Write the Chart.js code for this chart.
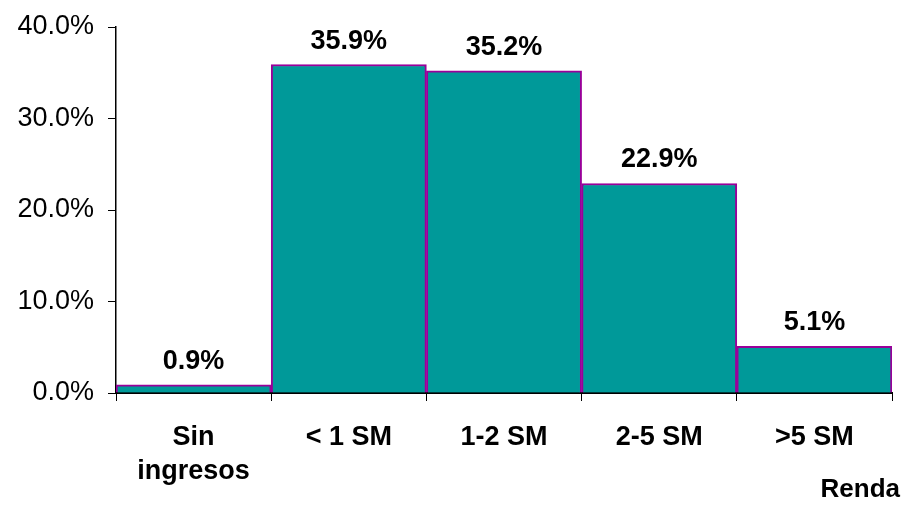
<!DOCTYPE html>
<html>
<head>
<meta charset="utf-8">
<script src="https://cdn.jsdelivr.net/npm/chart.js@4"></script>
<style>
html,body{margin:0;padding:0;background:#fff;}
#c{display:block;}
</style>
</head>
<body>
<canvas id="c" width="906" height="517"></canvas>
<script>
const categories = [["Sin","ingresos"], "< 1 SM", "1-2 SM", "2-5 SM", ">5 SM"];
const values = [0.9, 35.9, 35.2, 22.9, 5.1];
const axisTitle = "Renda";
const FONT = "'Liberation Sans', Arial, sans-serif";

const labelPlugin = {
  id: 'valueLabels',
  afterDatasetsDraw(chart) {
    const ctx = chart.ctx;
    const meta = chart.getDatasetMeta(0);
    ctx.save();
    ctx.font = "bold 27px " + FONT;
    ctx.fillStyle = '#000';
    ctx.textAlign = 'center';
    ctx.textBaseline = 'alphabetic';
    meta.data.forEach((bar, i) => {
      ctx.fillText(values[i].toFixed(1) + '%', bar.x, bar.y - 16);
    });
    // axis title, right-aligned just past the plot area
    ctx.font = "bold 26px " + FONT;
    ctx.textAlign = 'right';
    ctx.fillText(axisTitle, chart.chartArea.right + 8, 497);
    ctx.restore();
  }
};

new Chart(document.getElementById('c'), {
  type: 'bar',
  data: {
    labels: categories,
    datasets: [{
      data: values,
      backgroundColor: '#009999',
      borderColor: '#990099',
      borderWidth: 2,
      categoryPercentage: 1.0,
      barPercentage: 1.0
    }]
  },
  options: {
    responsive: false,
    animation: false,
    devicePixelRatio: 1,
    layout: { padding: { top: 27, right: 14, left: 0, bottom: 0 } },
    plugins: { legend: { display: false }, tooltip: { enabled: false } },
    scales: {
      x: {
        offset: true,
        grid: { offset: true, drawOnChartArea: false, drawTicks: true, tickLength: 8, color: '#000', lineWidth: 1 },
        border: { display: true, color: '#000', width: 2 },
        ticks: { color: '#000', font: { family: FONT, size: 27, weight: 'bold', lineHeight: 1.25 }, padding: 20, maxRotation: 0, autoSkip: false },
        title: { display: false, text: axisTitle },
        afterFit(scale) { scale.height = 124; scale.paddingLeft = 0; scale.paddingRight = 0; }
      },
      y: {
        min: 0, max: 40,
        grid: { drawOnChartArea: false, drawTicks: true, tickLength: 8, color: '#000', lineWidth: 1 },
        border: { display: true, color: '#000', width: 1.5 },
        ticks: { stepSize: 10, color: '#000', font: { family: FONT, size: 27 }, padding: 14, callback: v => v.toFixed(1) + '%' },
        afterFit(scale) { scale.width = 116; scale.paddingTop = 0; scale.paddingBottom = 0; }
      }
    }
  },
  plugins: [labelPlugin]
});
</script>
</body>
</html>
